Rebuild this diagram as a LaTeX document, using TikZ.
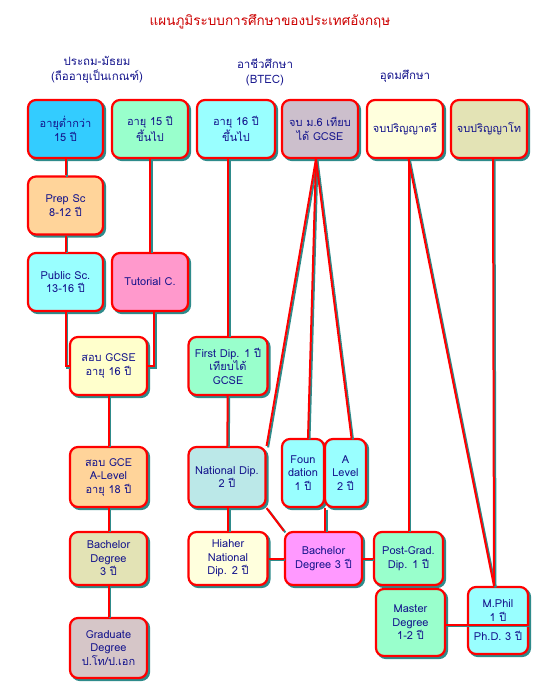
\documentclass[tikz,border=0pt]{standalone}
\usepackage{fontspec}
\usepackage{xcolor}
\newfontfamily\thaifont[Script=Thai]{Loma}
\definecolor{boxred}{HTML}{FF0000}
\definecolor{shadowteal}{HTML}{2E8B8B}
\definecolor{navy}{HTML}{14148C}
\definecolor{titlered}{HTML}{CC0000}
\definecolor{sky}{HTML}{33CCFF}
\definecolor{mint}{HTML}{99FFCC}
\definecolor{aqua}{HTML}{99FFFF}
\definecolor{mauve}{HTML}{CCBFCC}
\definecolor{cream}{HTML}{FFFFDD}
\definecolor{olive}{HTML}{E3E3B5}
\definecolor{peach}{HTML}{FFD49A}
\definecolor{pink}{HTML}{FF99CC}
\definecolor{lemon}{HTML}{FFFFCC}
\definecolor{paleteal}{HTML}{BBE8E8}
\definecolor{magenta}{HTML}{FF99FF}
\definecolor{graymauve}{HTML}{D6C6C8}

\begin{document}
\begin{tikzpicture}[x=1pt,y=-1pt]
\tikzset{edge/.style = {draw=boxred, line width=2pt,
  preaction={draw=shadowteal, line width=2pt, transform canvas={shift={(1.5pt,-1.5pt)}}}}}
\tikzset{box/.style = {draw=boxred, line width=2.2pt, rounded corners=8pt, align=center,
  text=navy, inner sep=1pt, minimum width=76pt, minimum height=58pt,
  preaction={draw=shadowteal, fill=shadowteal, line width=2.2pt, transform canvas={shift={(2pt,-2pt)}}}}}
\tikzset{head/.style = {text=navy, align=center, font=\thaifont\fontsize{11.5}{15}\selectfont}}
\tikzset{every node/.style={font=\thaifont\fontsize{11}{13.5}\selectfont}}
\useasboundingbox (0,0) rectangle (550,696);
\node [text=titlered, font=\thaifont\fontsize{13.5}{16}\selectfont] at (270,22)(title) {แผนภูมิระบบการศึกษาของประเทศอังกฤษ};
\node [head] at (97,70)(prim) {ประถม-มัธยม\\(ถืออายุเป็นเกณฑ์)};
\node [head] at (265,72)(voc) {อาชีวศึกษา\\(BTEC)};
\node [head] at (405,76)(high) {อุดมศึกษา};
\node [box, fill=sky, minimum width=75pt] at (65.5,129)(a1) {อายุต่ำกว่า\\15 ปี};
\node [box, fill=mint] at (150,129)(a2) {อายุ 15 ปี\\ขึ้นไป};
\node [box, fill=aqua, minimum width=78pt] at (236,129)(a3) {อายุ 16 ปี\\ขึ้นไป};
\node [box, fill=mauve] at (320,129)(a4) {จบ ม.6 เทียบ\\ได้ GCSE};
\node [box, fill=cream] at (405,129)(a5) {จบปริญญาตรี};
\node [box, fill=olive] at (489,129)(a6) {จบปริญญาโท};
\node [box, fill=peach, minimum width=75pt] at (65.5,205.5)(prep) {Prep Sc\\8-12 ปี};
\node [box, fill=aqua, minimum width=75pt] at (65.5,282)(public) {Public Sc.\\13-16 ปี};
\node [box, fill=pink] at (150,282)(tutor) {Tutorial C.};
\node [box, fill=lemon, minimum width=77pt] at (108.5,366)(gcse) {สอบ GCSE\\อายุ 16 ปี};
\node [box, fill=mint, minimum width=79pt] at (228,366)(firstdip) {First Dip. 1 ปี\\เทียบได้\\GCSE};
\node [box, fill=peach, minimum width=77pt, minimum height=60pt] at (108.5,477)(gce) {สอบ GCE\\A-Level\\อายุ 18 ปี};
\node [box, fill=paleteal, minimum width=77pt, minimum height=60pt] at (227,477)(natdip) {National Dip.\\2 ปี};
\node [box, fill=aqua, minimum width=42pt, minimum height=68pt] at (303,473)(found) {Foun\\dation\\1 ปี};
\node [box, fill=aqua, minimum width=41pt, minimum height=68pt] at (345.5,473)(alevel) {A\\Level\\2 ปี};
\node [box, fill=olive, minimum width=77pt, minimum height=53pt] at (108.5,558.5)(bachA) {Bachelor\\Degree\\3 ปี};
\node [box, fill=cream, minimum width=79pt, minimum height=53pt] at (228,558.5)(hnd) {Hiaher\\National\\Dip. 2 ปี};
\node [box, fill=magenta, minimum width=77pt, minimum height=53pt] at (323.5,558.5)(bachB) {Bachelor\\Degree 3 ปี};
\node [box, fill=mint, minimum width=69pt, minimum height=53pt] at (408.5,558.5)(postgrad) {Post-Grad.\\Dip. 1 ปี};
\node [box, fill=graymauve, minimum width=77pt, minimum height=60pt] at (108.5,648)(grad) {Graduate\\Degree\\ป.โท/ป.เอก};
\node [box, fill=mint, minimum width=69pt, minimum height=67pt] at (410.5,622.5)(master) {Master\\Degree\\1-2 ปี};
\node [box, fill=aqua, minimum width=60pt, minimum height=67pt] at (498,620.5)(mphil) {M.Phil\\1 ปี\\[6pt]Ph.D. 3 ปี};
\draw [edge] (a1) -- (prep);
\draw [edge] (prep) -- (public);
\draw [edge] (public.south) |- (gcse.west);
\draw [edge] (a2) -- (tutor);
\draw [edge] ([xshift=4pt]tutor.south) |- (gcse.east);
\draw [edge] (gcse) -- (gce);
\draw [edge] (gce) -- (bachA);
\draw [edge] (bachA) -- (grad);
\draw [edge] (firstdip.north |- a3.south) -- (firstdip.north);
\draw [edge] (firstdip) -- (natdip);
\draw [edge] (natdip.south -| hnd.north) -- (hnd.north);
\draw [edge] ([xshift=-4pt]a4.south) -- (natdip.north east);
\draw [edge] ([xshift=-4pt]a4.south) -- ([xshift=5pt]found.north);
\draw [edge] ([xshift=-4pt]a4.south) -- ([xshift=6pt]alevel.north);
\draw [edge] (found.south east) -- (found.south east |- bachB.north);
\draw [edge] (natdip.south east) -- (bachB.north west);
\draw [edge] (hnd) -- (bachB);
\draw [edge] (bachB) -- (postgrad);
\draw [edge] (postgrad.north |- a5.south) -- (postgrad.north);
\draw [edge] (postgrad.north |- a5.south) -- ([xshift=-4pt]mphil.north);
\draw [edge] ([xshift=4pt]a6.south) -- ([xshift=-4pt]mphil.north);
\draw [edge] ([yshift=-2pt]master.east) -- ([yshift=-2pt]master.east -| mphil.east);
\end{tikzpicture}
\end{document}
